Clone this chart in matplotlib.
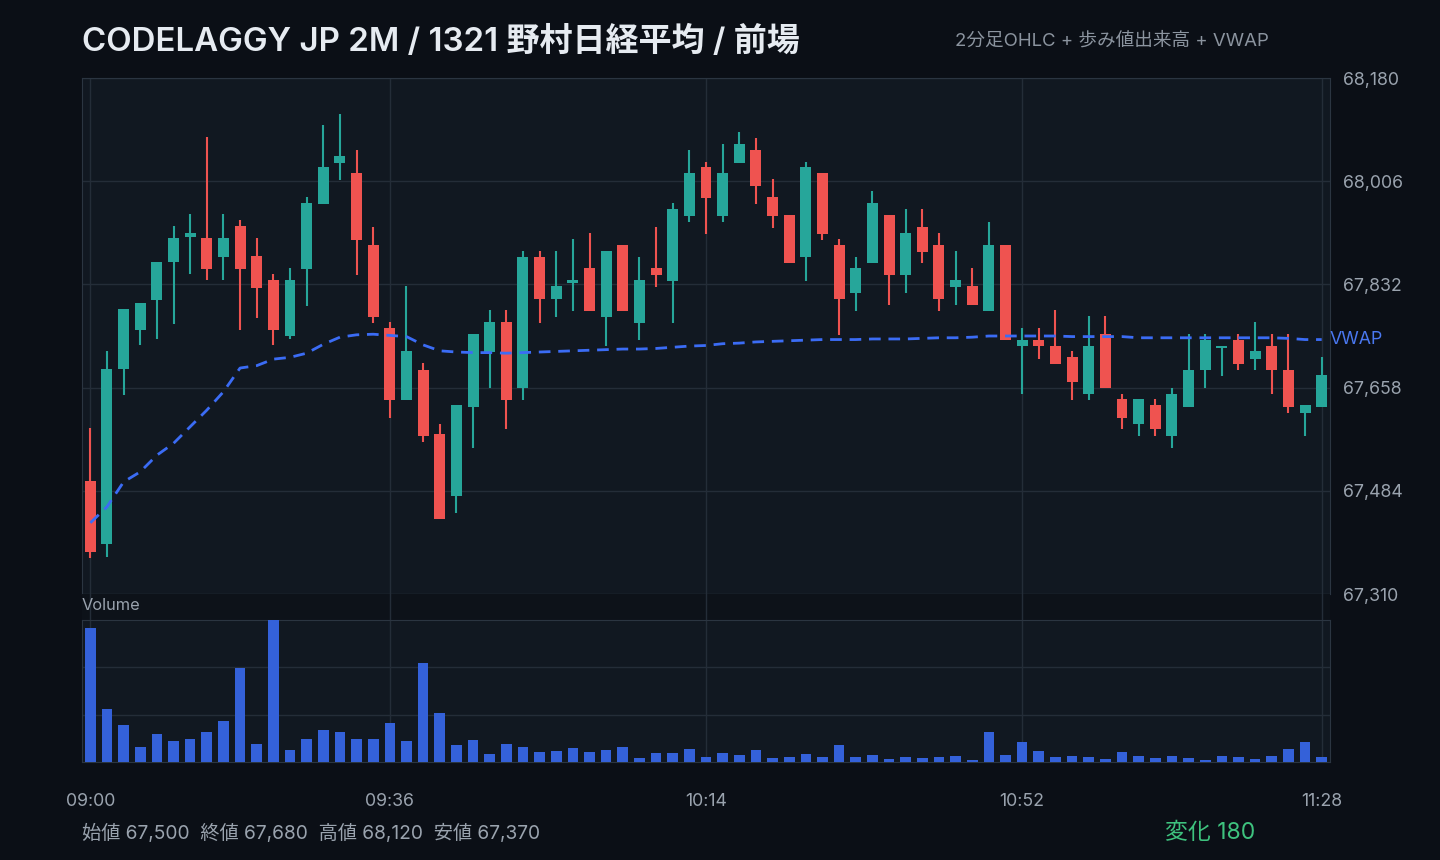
import numpy as np
import matplotlib
matplotlib.use("Agg")
import matplotlib.pyplot as plt

plt.rcParams['font.family'] = ['Inter', 'Noto Sans CJK JP', 'DejaVu Sans']

# 2-minute OHLC bars, 09:00 - 11:28
opens = [67500, 67395, 67690, 67755, 67805, 67870, 67912, 67910, 67878, 67930,
         67880, 67840, 67745, 67858, 67968, 68037, 68020, 67898, 67758, 67637,
         67688, 67579, 67476, 67626, 67718, 67768, 67657, 67879, 67807, 67834,
         67859, 67777, 67898, 67767, 67859, 67837, 67947, 68030, 67947, 68037,
         68058, 67979, 67949, 67878, 68020, 67898, 67817, 67868, 67949, 67848,
         67928, 67898, 67827, 67829, 67787, 67898, 67728, 67739, 67728, 67709,
         67647, 67748, 67638, 67596, 67628, 67577, 67626, 67687, 67724, 67739,
         67707, 67728, 67688, 67616, 67626]
highs = [67590, 67720, 67790, 67800, 67870, 67930, 67950, 68080, 67950, 67940,
         67910, 67850, 67860, 67980, 68100, 68120, 68058, 67928, 67768, 67829,
         67699, 67597, 67628, 67748, 67788, 67788, 67888, 67888, 67888, 67908,
         67918, 67888, 67898, 67879, 67928, 67969, 68058, 68038, 68069, 68089,
         68079, 68009, 67949, 68038, 68020, 67908, 67879, 67989, 67949, 67959,
         67959, 67918, 67888, 67859, 67938, 67898, 67758, 67758, 67788, 67719,
         67778, 67778, 67648, 67638, 67638, 67658, 67748, 67748, 67728, 67748,
         67768, 67748, 67748, 67628, 67709]
lows = [67370, 67372, 67645, 67730, 67740, 67765, 67850, 67840, 67840, 67755,
        67775, 67730, 67740, 67795, 67968, 68008, 67848, 67767, 67606, 67637,
        67567, 67437, 67447, 67557, 67657, 67588, 67637, 67767, 67777, 67787,
        67787, 67728, 67787, 67738, 67827, 67767, 67937, 67917, 67937, 68037,
        67968, 67927, 67868, 67838, 67907, 67746, 67787, 67868, 67797, 67817,
        67868, 67787, 67797, 67797, 67787, 67738, 67647, 67707, 67697, 67637,
        67637, 67657, 67588, 67577, 67577, 67557, 67626, 67657, 67677, 67687,
        67687, 67647, 67616, 67577, 67626]
closes = [67380, 67690, 67790, 67800, 67870, 67910, 67918, 67858, 67910, 67858,
          67826, 67755, 67840, 67970, 68030, 68048, 67907, 67777, 67637, 67719,
          67577, 67437, 67628, 67748, 67768, 67637, 67879, 67807, 67829, 67839,
          67787, 67888, 67787, 67839, 67848, 67959, 68020, 67978, 68020, 68069,
          67998, 67947, 67868, 68030, 67917, 67807, 67859, 67969, 67848, 67918,
          67887, 67807, 67839, 67797, 67898, 67738, 67739, 67728, 67697, 67667,
          67728, 67657, 67606, 67638, 67588, 67648, 67688, 67739, 67728, 67697,
          67719, 67687, 67626, 67628, 67680]
volumes = [4040, 1610, 1130, 440, 830, 620, 680, 890, 1250, 2840,
           530, 4280, 350, 680, 950, 890, 680, 680, 1190, 620,
           2990, 1490, 500, 650, 230, 530, 440, 290, 320, 410,
           290, 350, 440, 110, 260, 260, 380, 140, 260, 200,
           350, 110, 140, 230, 140, 500, 140, 200, 80, 140,
           110, 140, 170, 50, 890, 200, 590, 320, 140, 170,
           140, 80, 290, 170, 110, 170, 110, 50, 170, 140,
           80, 170, 380, 590, 140]
vwap = [67430, 67457, 67499, 67516, 67544, 67564, 67592, 67620, 67651, 67691,
        67695, 67706, 67709, 67716, 67731, 67743, 67747, 67748, 67746, 67744,
        67730, 67720, 67718, 67717, 67717, 67716, 67717, 67718, 67719, 67720,
        67721, 67722, 67723, 67723, 67724, 67726, 67728, 67729, 67732, 67733,
        67735, 67736, 67737, 67738, 67739, 67739, 67739, 67740, 67740, 67740,
        67741, 67742, 67742, 67743, 67745, 67745, 67745, 67745, 67745, 67744,
        67744, 67744, 67744, 67742, 67742, 67742, 67742, 67742, 67742, 67742,
        67742, 67742, 67741, 67739, 67739]

time_labels = ["09:00", "09:36", "10:14", "10:52", "11:28"]
price_ticks = [67310, 67484, 67658, 67832, 68006, 68180]

BG = "#0b0f16"
PANEL = "#111821"
GAP = "#0d1219"
GRID = "#242d38"
SPINE = "#2b3541"
TXT = "#9aa3ae"
UP = "#26a69a"
DOWN = "#ef5350"
VOL = "#3461d9"
VW = "#3b6cf5"

o = np.array(opens); h = np.array(highs); l = np.array(lows); c = np.array(closes)
x = np.arange(len(o))
cols = np.where(c >= o, UP, DOWN)
tick_pos = [(int(t[:2]) * 60 + int(t[3:]) - 540) / 2 for t in time_labels]

fig = plt.figure(figsize=(14.4, 8.6), dpi=100, facecolor=BG)
ax = fig.add_axes([82/1440, 1-594/860, 1248/1440, 516/860], facecolor=PANEL)
gap = fig.add_axes([82/1440, 1-620/860, 1248/1440, 26/860], facecolor=GAP)
axv = fig.add_axes([82/1440, 1-762/860, 1248/1440, 142/860], facecolor=PANEL)

xl = (-0.5, len(o) - 0.5)

# price panel
ax.vlines(x, l, h, colors=cols, linewidth=1.5, zorder=3)
body_lo = np.minimum(o, c)
body_h = np.maximum(np.abs(c - o), 2.5)
ax.bar(x, body_h, bottom=body_lo, width=0.66, color=cols, zorder=4)
ax.plot(x, vwap, color=VW, linewidth=2, linestyle=(0, (4.2, 2.8)), zorder=5)
ax.annotate("VWAP", xy=(1.0, vwap[-1]), xycoords=('axes fraction', 'data'),
            ha='left', va='center', color="#4a78f0", fontsize=12.8,
            annotation_clip=False)
ax.set_xlim(*xl)
ax.set_ylim(price_ticks[0], price_ticks[-1])
ax.set_yticks(price_ticks)
ax.set_yticklabels([f"{v:,}" for v in price_ticks])
ax.yaxis.tick_right()
ax.tick_params(axis='y', length=0, pad=9, labelsize=12.8, labelcolor=TXT)
ax.set_xticks(tick_pos)
ax.tick_params(axis='x', length=0, labelbottom=False)
ax.grid(True, color=GRID, linewidth=1)
ax.set_axisbelow(True)
for s in ax.spines.values():
    s.set_color(SPINE)

# gap between panels
gap.set_xlim(*xl)
for t in tick_pos:
    gap.axvline(t, color=GRID, linewidth=1)
gap.set_xticks([]); gap.set_yticks([])
for s in gap.spines.values():
    s.set_visible(False)
fig.text(82/1440, 1-606/860, "Volume", color=TXT, fontsize=11.8, va='center', ha='left')

# volume panel
axv.bar(x, volumes, width=0.64, color=VOL, zorder=3)
axv.set_xlim(*xl)
vmax = max(volumes)
axv.set_ylim(0, vmax)
axv.set_yticks([vmax/3, 2*vmax/3])
axv.tick_params(axis='y', length=0, labelleft=False)
axv.set_xticks(tick_pos)
axv.set_xticklabels(time_labels)
axv.tick_params(axis='x', length=0, pad=22, labelsize=12.8, labelcolor=TXT)
axv.grid(True, color=GRID, linewidth=1)
axv.set_axisbelow(True)
for s in axv.spines.values():
    s.set_color(SPINE)

# titles and footer
fig.text(82/1440, 1-42/860, "CODELAGGY JP 2M / 1321 野村日経平均 / 前場",
         color="#e6ebf1", fontsize=23.8, fontweight='semibold', va='center', ha='left')
fig.text(955/1440, 1-41/860, "2分足OHLC + 歩み値出来高 + VWAP",
         color="#8b949f", fontsize=13.4, va='center', ha='left')
stats = f"始値 {opens[0]:,}  終値 {closes[-1]:,}  高値 {max(highs):,}  安値 {min(lows):,}"
fig.text(82/1440, 1-833/860, stats, color=TXT, fontsize=13.8, va='center', ha='left')
fig.text(1165/1440, 1-833/860, f"変化 {closes[-1] - opens[0]}", color="#3ec27e",
         fontsize=16.5, va='center', ha='left')

fig.savefig("out.png", dpi=100, facecolor=BG)
